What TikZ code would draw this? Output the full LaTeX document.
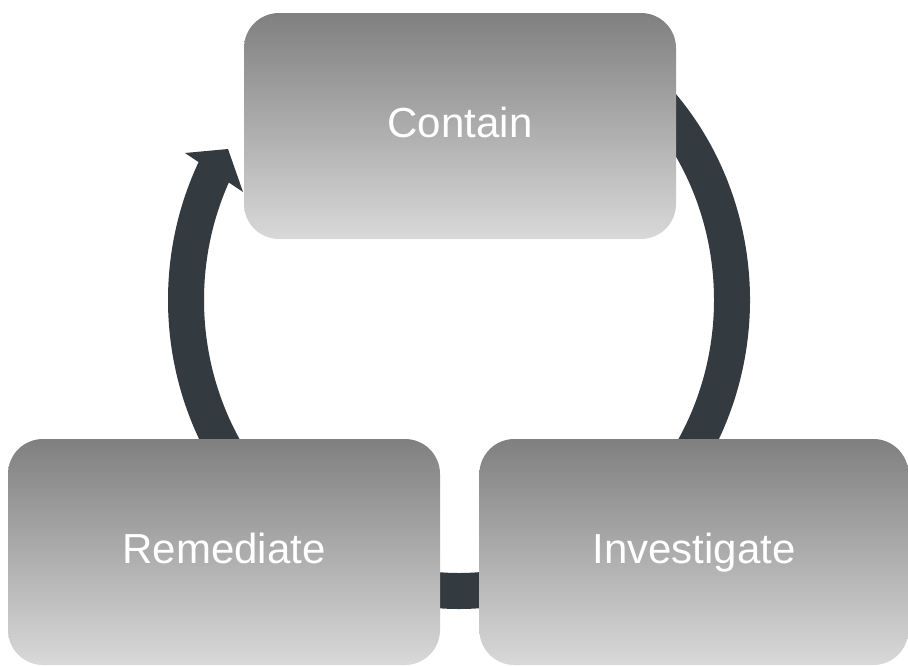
\documentclass[tikz,border=0pt]{standalone}
\usepackage{fontspec}
\setmainfont{Liberation Sans}
\usetikzlibrary{positioning, backgrounds}
\definecolor{ringslate}{RGB}{51,58,64}
\tikzset{
  phasebox/.style = {rounded corners=35pt, minimum width=432pt,
                     minimum height=226pt, top color=black!50,
                     bottom color=black!15, text=white,
                     text height=22pt, text depth=0pt,
                     font=\fontsize{42pt}{48pt}\selectfont},
  ringband/.style = {draw=ringslate, line width=36pt},
  ringhead/.style = {fill=ringslate}
}

\begin{document}
\begin{tikzpicture}[x=1pt, y=1pt]
  \useasboundingbox (0,0) rectangle (908,-665);

  \node[phasebox] (contain)   at (460,-126) {Contain};
  \node[phasebox] (remediate) at (224,-552) {Remediate};
  \node[phasebox, minimum width=429pt, right=39pt of remediate]
                  (investigate) {Investigate};

  % ring behind the three phases
  \coordinate (hub) at (459,-300);
  \begin{scope}[on background layer, shift={(hub)}]
    \draw[ringband] (50:273 and 291)
          arc[start angle=50, end angle=-45, x radius=273, y radius=291];
    \draw[ringband] (-45:273 and 291)
          arc[start angle=-45, end angle=-135, x radius=273, y radius=291];
    \draw[ringband] (-135:273 and 291)
          arc[start angle=-135, end angle=-207, x radius=273, y radius=291];
    \fill[ringhead] (-274,147) -- (-231,151) -- (-216,108) -- cycle;
  \end{scope}
\end{tikzpicture}
\end{document}
